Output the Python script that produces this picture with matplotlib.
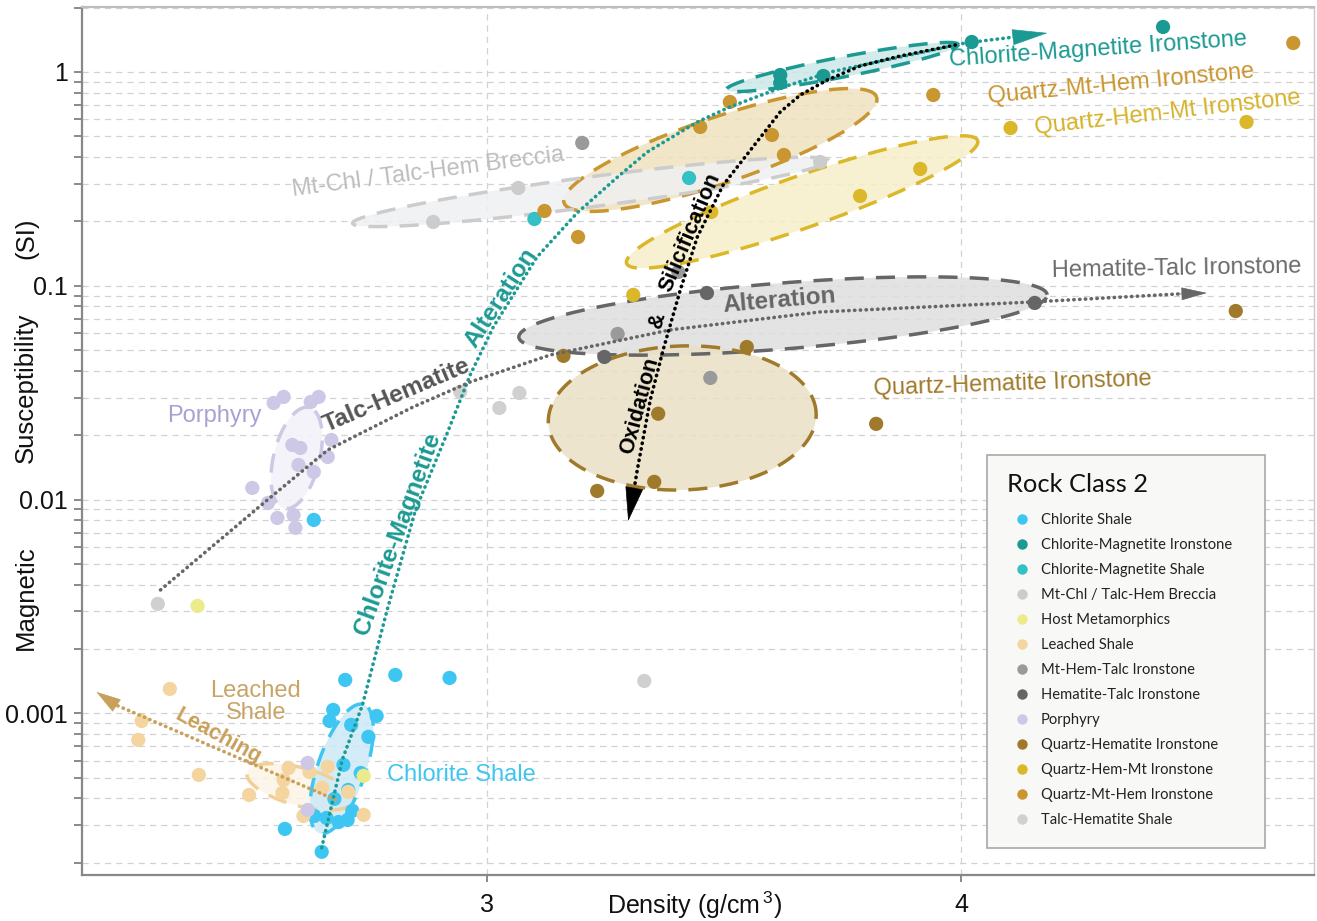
import numpy as np
import matplotlib
matplotlib.use("Agg")
import matplotlib.pyplot as plt
from matplotlib.lines import Line2D
from matplotlib.patches import Rectangle
from matplotlib.ticker import NullLocator, LogLocator, NullFormatter

plt.rcParams['font.family'] = ['Liberation Sans', 'DejaVu Sans']
plt.rcParams['mathtext.fontset'] = 'custom'
plt.rcParams['mathtext.rm'] = 'Liberation Sans'
plt.rcParams['mathtext.default'] = 'regular'

# ---------------- data (density g/cm3, magnetic susceptibility SI) ----------------
classes = ["Chlorite Shale", "Chlorite-Magnetite Ironstone", "Chlorite-Magnetite Shale",
           "Mt-Chl / Talc-Hem Breccia", "Host Metamorphics", "Leached Shale",
           "Mt-Hem-Talc Ironstone", "Hematite-Talc Ironstone", "Porphyry",
           "Quartz-Hematite Ironstone", "Quartz-Hem-Mt Ironstone", "Quartz-Mt-Hem Ironstone",
           "Talc-Hematite Shale"]
colors = ["#3ec6f2", "#1b9a93", "#35c0c6", "#cccccc", "#ebeb8c", "#f5d59f", "#9a9a9a",
          "#666666", "#cdc8e6", "#a07a2b", "#dbb72a", "#c99630", "#d0d0d0"]

chl_shale_d = [2.700, 2.752, 2.837, 2.932, 2.732, 2.726, 2.762, 2.805, 2.791, 2.749,
               2.778, 2.757, 2.734, 2.764, 2.701, 2.721, 2.741, 2.756, 2.653, 2.713]
chl_shale_s = [0.00803, 0.001433, 0.001512, 0.001464, 0.001037, 0.000921, 0.000883, 0.000972,
               0.000776, 0.000574, 0.000526, 0.000438, 0.000398, 0.000350, 0.000331, 0.000324,
               0.000310, 0.000317, 0.000288, 0.000225]
chl_mt_iron_d = [3.584, 3.584, 3.679, 4.026, 4.522]
chl_mt_iron_s = [0.968, 0.888, 0.958, 1.381, 1.624]
chl_mt_shale_d = [3.391, 3.087]
chl_mt_shale_s = [0.3193, 0.2053]
breccia_d = [2.903, 3.057, 3.672]
breccia_s = [0.1988, 0.2867, 0.3793]
host_d = [2.516, 2.783]
host_s = [0.00318, 0.000510]
leached_d = [2.474, 2.432, 2.427, 2.518, 2.659, 2.651, 2.693, 2.723, 2.596, 2.649,
             2.714, 2.757, 2.683, 2.783]
leached_s = [0.00130, 0.000921, 0.000751, 0.000515, 0.000555, 0.000488, 0.000532, 0.000562,
             0.000415, 0.000424, 0.000448, 0.000429, 0.000331, 0.000335]
mht_d = [3.178, 3.369, 3.247, 3.435]
mht_s = [0.4655, 0.1160, 0.0595, 0.03705]
ht_d = [3.428, 3.221, 4.183]
ht_s = [0.0925, 0.04645, 0.0831]
porph_d = [2.635, 2.651, 2.695, 2.708, 2.665, 2.678, 2.675, 2.700, 2.723, 2.729,
           2.601, 2.626, 2.641, 2.667, 2.670, 2.690, 2.690]
porph_s = [0.0283, 0.0302, 0.0286, 0.0302, 0.0180, 0.01743, 0.01451, 0.01346, 0.01582, 0.0190,
           0.01133, 0.00964, 0.00820, 0.00847, 0.00737, 0.000586, 0.000353]
qh_d = [3.142, 3.512, 3.328, 3.320, 3.207, 3.799, 4.726]
qh_s = [0.0470, 0.0517, 0.0252, 0.0121, 0.01097, 0.0226, 0.0762]
qhm_d = [3.278, 3.437, 3.762, 3.902, 4.122, 4.757]
qhm_s = [0.0906, 0.2214, 0.263, 0.3518, 0.547, 0.5836]
qmh_d = [3.476, 3.414, 3.566, 3.592, 3.106, 3.170, 3.933, 4.894]
qmh_s = [0.724, 0.553, 0.5073, 0.409, 0.2238, 0.1691, 0.7805, 1.366]
ths_d = [2.456, 2.951, 3.022, 3.059, 3.300]
ths_s = [0.00325, 0.0319, 0.0268, 0.0315, 0.001417]

series = [(chl_shale_d, chl_shale_s), (chl_mt_iron_d, chl_mt_iron_s), (chl_mt_shale_d, chl_mt_shale_s),
          (breccia_d, breccia_s), (host_d, host_s), (leached_d, leached_s), (mht_d, mht_s),
          (ht_d, ht_s), (porph_d, porph_s), (qh_d, qh_s), (qhm_d, qhm_s), (qmh_d, qmh_s),
          (ths_d, ths_s)]

# trend paths (density, susceptibility)
teal_path_d = [2.713, 2.747, 2.781, 2.823, 2.872, 2.928, 2.969, 3.011, 3.092, 3.168, 3.247,
               3.306, 3.408, 3.476, 3.584, 3.695, 3.855, 4.010, 4.132]
teal_path_s = [0.000235, 0.000605, 0.001095, 0.003045, 0.00894, 0.0205, 0.0383, 0.0642, 0.1364,
               0.219, 0.3228, 0.4222, 0.5836, 0.686, 0.8417, 1.0, 1.175, 1.366, 1.458]
teal_tip = (4.216, 1.522)
gray_path_d = [2.460, 2.625, 2.723, 2.868, 2.969, 3.117, 3.352, 3.672, 4.178, 4.567]
gray_path_s = [0.003777, 0.00996, 0.01706, 0.02712, 0.03548, 0.04747, 0.06215,
               0.07542, 0.084, 0.0916]
gray_tip = (4.644, 0.0925)
black_path_d = [3.986, 3.855, 3.762, 3.688, 3.628, 3.584, 3.525, 3.462, 3.408, 3.373, 3.338,
                3.312, 3.286, 3.280]
black_path_s = [1.337, 1.188, 1.067, 0.9175, 0.7805, 0.6501, 0.4458, 0.2961, 0.1691, 0.0956,
                0.0501, 0.0292, 0.01375, 0.01133]
black_tip = (3.268, 0.00794)
leach_path_d = [2.736, 2.394]
leach_path_s = [0.000394, 0.001095]
leach_tip = (2.366, 0.00126)

# group envelopes: centre (density, susceptibility)
env_centres = [(3.722, 1.055), (3.456, 0.4316), (3.632, 0.2466), (3.194, 0.2747),
               (3.590, 0.0722), (3.377, 0.02408), (2.672, 0.01565), (2.678, 0.000453),
               (2.746, 0.000550)]

# ---------------- figure ----------------
fig = plt.figure(figsize=(13.17, 9.21), dpi=100)
ax = fig.add_axes([82 / 1317, (921 - 875.3) / 921, 1232 / 1317, 868 / 921])
ax.set_xscale('log')
ax.set_yscale('log')
ax.set_xlim(2.3455, 4.956)
ax.set_ylim(1.747e-4, 2.007)

ax.set_xticks([3, 4])
ax.set_xticklabels(['3', '4'])
ax.xaxis.set_minor_locator(NullLocator())
ax.xaxis.set_minor_formatter(NullFormatter())
ax.set_yticks([0.001, 0.01, 0.1, 1])
ax.set_yticklabels(['0.001', '0.01', '0.1', '1'])
ax.yaxis.set_minor_locator(LogLocator(base=10, subs=np.arange(2, 10)))
ax.yaxis.set_minor_formatter(NullFormatter())
ax.tick_params(axis='both', which='both', direction='out', color='#777777', width=1.2,
               labelsize=18, labelcolor='#111111')
ax.tick_params(axis='y', which='both', length=6, pad=4)
ax.tick_params(axis='x', which='major', length=5, pad=8)
ax.grid(True, axis='y', which='both', color='#d2d2d2', lw=0.9, ls=(0, (5, 4)))
ax.grid(True, axis='x', which='major', color='#d2d2d2', lw=0.9, ls=(0, (5, 4)))
ax.set_axisbelow(True)
for side, c, w in [('left', '#888888', 1.6), ('bottom', '#888888', 1.6),
                   ('top', '#bdbdbd', 1.6), ('right', '#c8c8c8', 1.0)]:
    ax.spines[side].set_color(c)
    ax.spines[side].set_linewidth(w)


def envelope(centre, a_px, b_px, ang_deg, fc, ec, alpha=0.85):
    X0, Y0 = ax.transData.transform(centre)
    t = np.linspace(0, 2 * np.pi, 300)
    th = np.deg2rad(ang_deg)
    ex = a_px * np.cos(t) * np.cos(th) - b_px * np.sin(t) * np.sin(th)
    ey = a_px * np.cos(t) * np.sin(th) + b_px * np.sin(t) * np.cos(th)
    pts = ax.transData.inverted().transform(np.column_stack([X0 + ex, Y0 + ey]))
    ax.fill(pts[:, 0], pts[:, 1], color=fc, alpha=alpha, lw=0, zorder=1)
    ax.plot(pts[:, 0], pts[:, 1], color=ec, lw=2.5, ls=(0, (5.5, 3.5)), zorder=2)


env_styles = [  # (a_px, b_px, angle, fill, edge)
    (118, 10, 11, '#cde8e8', '#1b9a93'),
    (165, 33, 18.7, '#f0e2c0', '#c99630'),
    (186, 26, 19.3, '#f7efc9', '#dbb72a'),
    (240, 15, 7.5, '#eff0f2', '#cccccc'),
    (265, 33, 4.6, '#dedede', '#666666'),
    (134, 72, 2, '#eae0c6', '#a07a2b'),
    (52, 23, 76, '#f3f2f9', '#cdc8e6'),
    (55, 19, -15, '#fcf4e6', '#f0d097'),
    (68, 24, 71, '#cce9f6', '#3ec6f2'),
]
for centre, (a, b, ang, fc, ec) in zip(env_centres, env_styles):
    envelope(centre, a, b, ang, fc, ec)

# points
for (d, s), c in zip(series, colors):
    ax.scatter(d, s, s=105, color=c, edgecolors='none', zorder=3)


def trend(xs, ys, tip, c, hl, hw, lw=2.6):
    ax.plot(xs, ys, color=c, lw=lw, ls=(0, (0.1, 1.5)), dash_capstyle='round', zorder=4)
    ax.annotate('', xy=tip, xytext=(xs[-1], ys[-1]),
                arrowprops=dict(arrowstyle=f'-|>,head_length={hl},head_width={hw}',
                                color=c, lw=0.5, shrinkA=0, shrinkB=0, mutation_scale=10),
                zorder=4)


trend(teal_path_d, teal_path_s, teal_tip, '#1b9a93', 2.4, 0.54)
trend(gray_path_d, gray_path_s, gray_tip, '#666666', 1.7, 0.43)
trend(black_path_d, black_path_s, black_tip, '#000000', 2.3, 0.61)
trend(leach_path_d, leach_path_s, leach_tip, '#c9a05a', 1.66, 0.5)

# labels
T = ax.transAxes
lab = dict(transform=T, ha='center', va='center', zorder=5, fontsize=17)
ax.text(0.8247, 0.9508, 'Chlorite-Magnetite Ironstone', color='#1b9a93', rotation=4, **lab)
ax.text(0.8433, 0.9116, 'Quartz-Mt-Hem Ironstone', color='#c99630', rotation=5.5, **lab)
ax.text(0.8815, 0.8782, 'Quartz-Hem-Mt Ironstone', color='#d6b32a', rotation=6.5, **lab)
ax.text(0.8888, 0.6985, 'Hematite-Talc Ironstone', color='#6b6b6b', rotation=1, **lab)
ax.text(0.7557, 0.5660, 'Quartz-Hematite Ironstone', color='#a0792a', rotation=2, **lab)
ax.text(0.2808, 0.8103, 'Mt-Chl / Talc-Hem Breccia', color='#bdbdbd', rotation=7.4, **lab)
ax.text(0.1071, 0.5292, 'Porphyry', color='#a9a1d2', **lab)
ax.text(0.1412, 0.1997, 'Leached\nShale', color='#c8a466', linespacing=1.05, **lab)
ax.text(0.3076, 0.1156, 'Chlorite Shale', color='#3ec6f2', **lab)

bold = dict(transform=T, ha='center', va='center', zorder=5, fontweight='bold')
ax.text(0.2557, 0.5533, 'Talc-Hematite', color='#555555', rotation=23, fontsize=17.5, **bold)
ax.text(0.3401, 0.6651, 'Alteration', color='#1b9a93', rotation=57, fontsize=17.5, **bold)
ax.text(0.2565, 0.3932, 'Chlorite-Magnetite', color='#1b9a93', rotation=70, fontsize=17.5, **bold)
ax.text(0.5657, 0.6616, 'Alteration', color='#666666', rotation=5, fontsize=17.5, **bold)
ax.text(0.4529, 0.5407, 'Oxidation', color='#000000', rotation=75, fontsize=15.5, **bold)
ax.text(0.4675, 0.6397, '&', color='#000000', rotation=75, fontsize=15.5, **bold)
ax.text(0.4935, 0.7411, 'Silicification', color='#000000', rotation=67, fontsize=15.5, **bold)
ax.text(0.1104, 0.1605, 'Leaching', color='#c9a05a', rotation=-28.6, fontsize=15.5, **bold)

# axis labels
ax.set_xlabel('Density (g/cm$^{\\,3}$)', fontsize=18, color='#111111')
ax.xaxis.set_label_coords(0.4976, -0.0165)
ax.xaxis.label.set_va('top')
for txt, yy in [('Magnetic', 598), ('Susceptibility', 388), ('(SI)', 238)]:
    fig.text(26 / 1317, 1 - yy / 921, txt, rotation=90, ha='center', va='center',
             fontsize=18.5, color='#111111')

# legend
ax.add_patch(Rectangle((0.7346, 0.03145), 0.2256, 0.4528, transform=T, fc='#f8f8f6',
                       ec='#a8a8a8', lw=1.2, zorder=6))
ax.text(0.7508, 0.4497, 'Rock Class 2', transform=T, ha='left', va='center',
        family='Lato', fontsize=18.3, color='#111111', zorder=7)
handles = [Line2D([], [], ls='none', marker='o', ms=7.5, mfc=c, mec='none', label=n)
           for n, c in zip(classes, colors)]
leg = ax.legend(handles=handles, loc='upper left', bbox_to_anchor=(0.7508, 0.4174),
                frameon=False, prop={'family': 'Lato', 'size': 10.6},
                handlelength=2.0, handletextpad=0.3, labelspacing=0.75,
                borderpad=0, borderaxespad=0)
leg.set_zorder(7)
for t in leg.get_texts():
    t.set_color('#222222')

fig.savefig('out.png', dpi=100)
